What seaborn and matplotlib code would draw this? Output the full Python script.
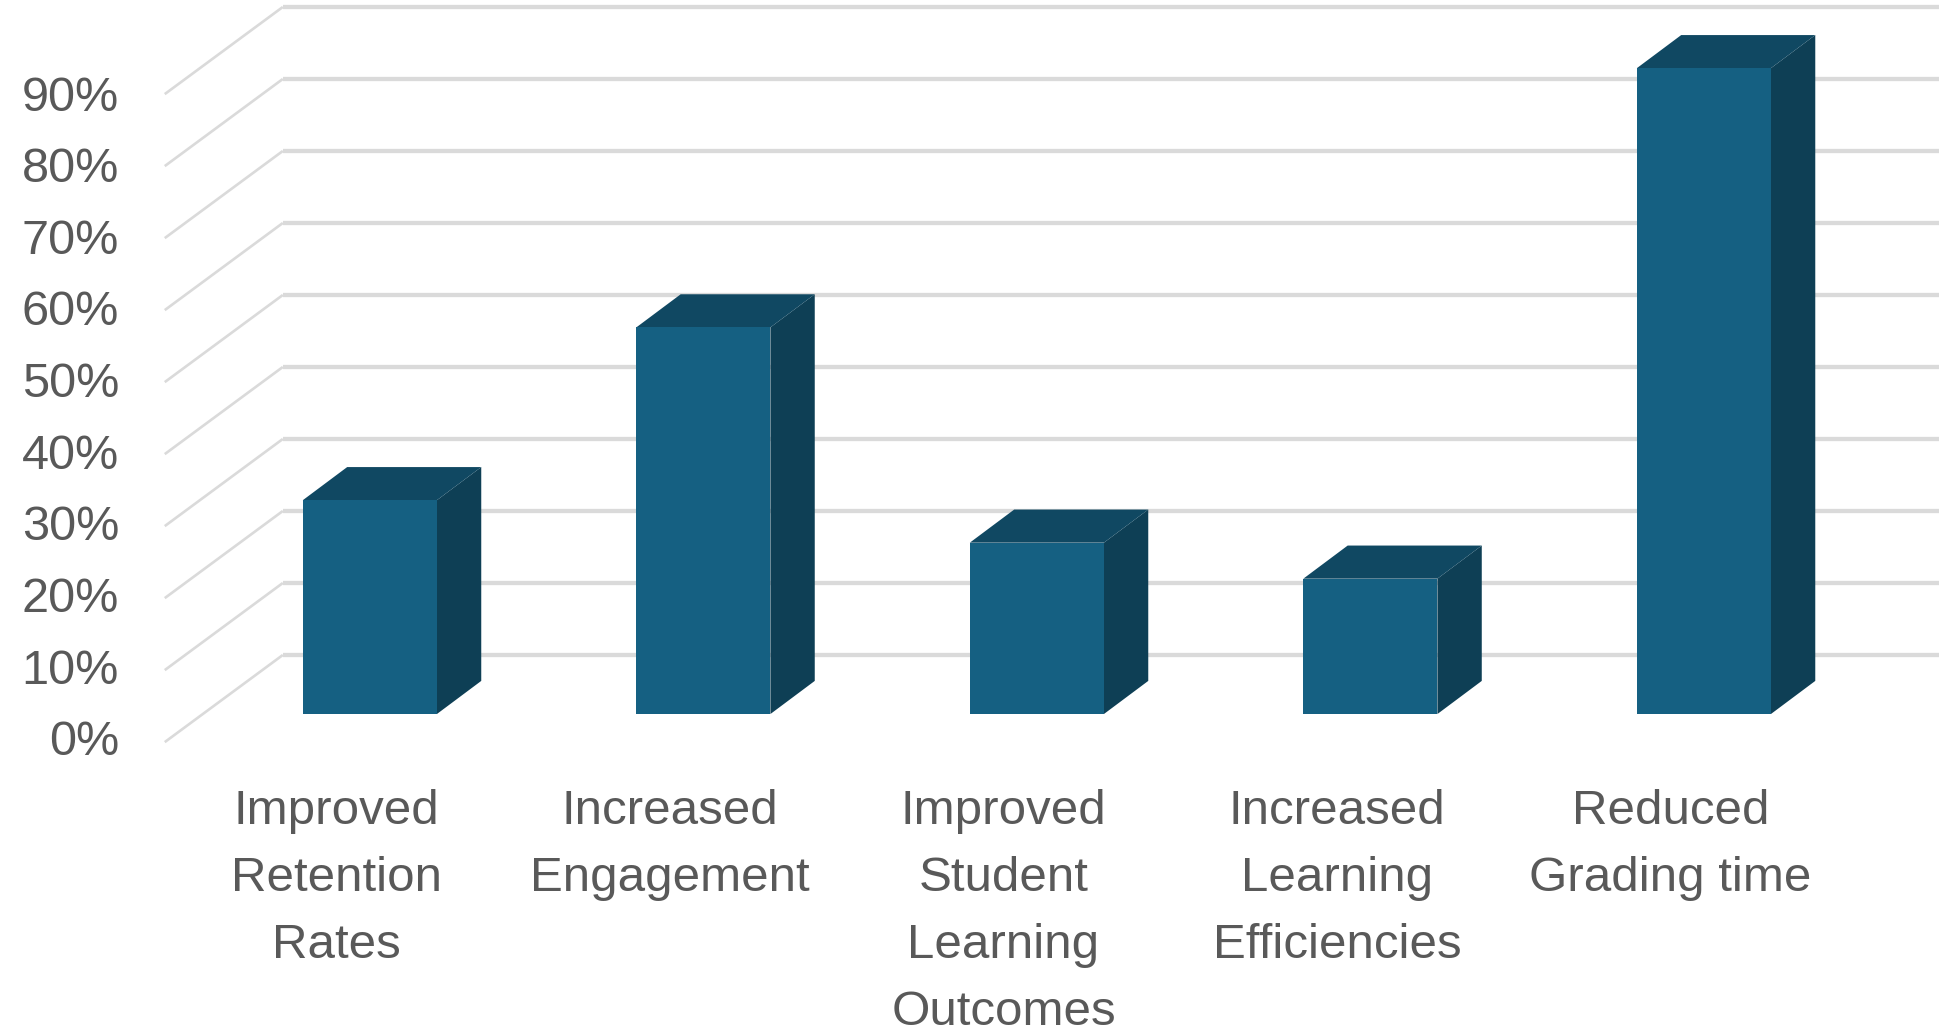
import matplotlib
matplotlib.use("Agg")
import matplotlib.pyplot as plt
import seaborn as sns
import pandas as pd

categories = ["Improved\nRetention\nRates", "Increased\nEngagement",
              "Improved\nStudent\nLearning\nOutcomes",
              "Increased\nLearning\nEfficiencies", "Reduced\nGrading time"]
values = [29.7, 53.7, 23.8, 18.8, 89.7]
tick_values = [0, 10, 20, 30, 40, 50, 60, 70, 80, 90]
tick_labels = ["0%", "10%", "20%", "30%", "40%", "50%", "60%", "70%", "80%", "90%"]

FRONT, SIDE, TOP = "#156082", "#0E3F55", "#104862"
GRID, TEXT = "#DADADA", "#595959"
sns.set_theme(style="white")
plt.rcParams["font.family"] = ["Liberation Sans", "DejaVu Sans"]

fig = plt.figure(figsize=(19.39, 10.33), dpi=100)
ax = fig.add_axes([0, 0, 1, 1])
df = pd.DataFrame({"category": categories, "value": values})
sns.barplot(data=df, x="category", y="value", color=FRONT, saturation=1, width=0.402,
            ax=ax, zorder=3, linewidth=0, edgecolor=FRONT)

x_left, x_right, y_bottom, y_top = -1.109, 4.705, -44.3, 99.17
wall_x0, wall_x1 = -0.615, -0.261
wall_y0, wall_y1 = -3.9, 8.2
depth_x, depth_y = 0.133, 4.6

for v, lab in zip(tick_values, tick_labels):
    ax.plot([wall_x0, wall_x1], [v + wall_y0, v + wall_y1], color=GRID, lw=1.9, zorder=1, solid_capstyle="butt")
    ax.plot([wall_x1, x_right], [v + wall_y1, v + wall_y1], color=GRID, lw=3.1, zorder=1, solid_capstyle="butt")
    ax.text(-0.752, v * 0.995 + wall_y0 - 0.1, lab, ha="right", va="center", fontsize=35, color=TEXT)

for bar in ax.patches:
    l, r, h = bar.get_x(), bar.get_x() + bar.get_width(), bar.get_height()
    ax.fill([r, r + depth_x, r + depth_x, r], [0, depth_y, h + depth_y, h], color=SIDE, lw=0, zorder=2)
    ax.fill([l, l + depth_x, r + depth_x, r], [h, h + depth_y, h + depth_y, h], color=TOP, lw=0, zorder=2)

for i, cat in enumerate(categories):
    ax.text(i - 0.1, -10.4, cat, ha="center", va="top", fontsize=35.5, color=TEXT, linespacing=1.63)

ax.set_xlim(x_left, x_right)
ax.set_ylim(y_bottom, y_top)
ax.axis("off")
fig.savefig("out.png", dpi=100, facecolor="white")
